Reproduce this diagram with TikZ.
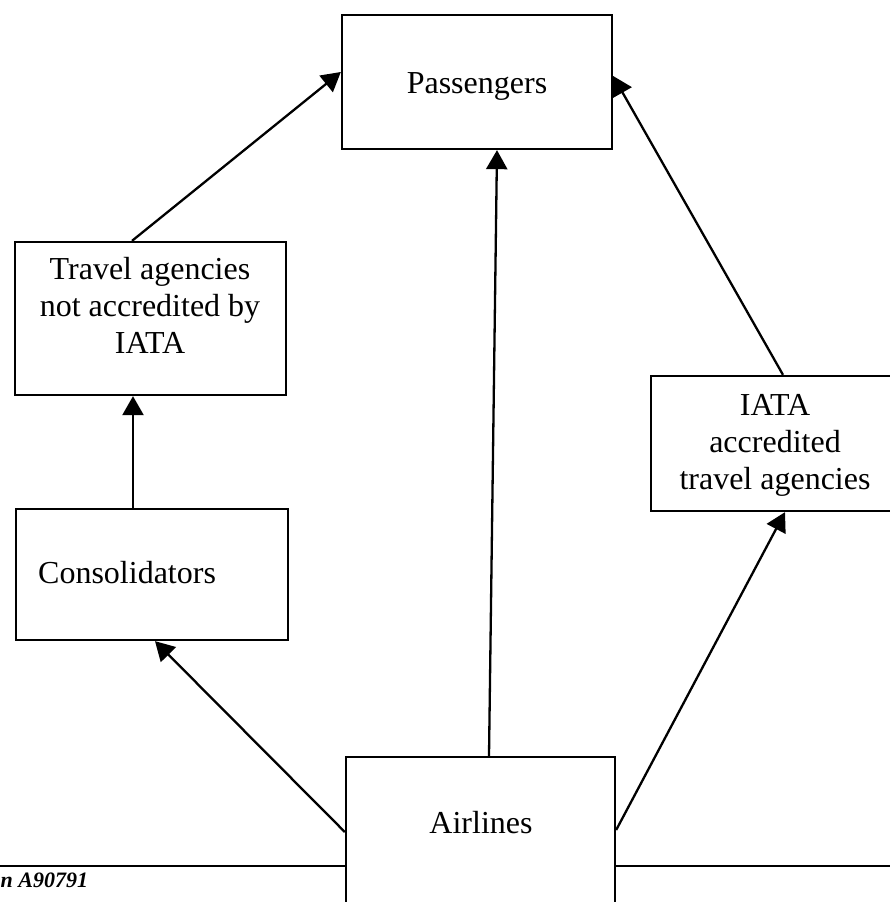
\documentclass[tikz,border=0pt]{standalone}
\usepackage{fontspec}
\setmainfont{Liberation Serif}
\usetikzlibrary{arrows.meta,calc}
\begin{document}
\begin{tikzpicture}[x=1pt,y=-1pt,
  box/.style={draw,line width=2.3pt,rectangle,inner sep=0pt},
  txt/.style={font=\fontsize{32}{37}\selectfont,align=center,inner sep=0pt},
  arr/.style={line width=2.3pt,-{Triangle[length=19pt,width=21pt]}},
  ln/.style={line width=2.3pt}]
\useasboundingbox (0,0) rectangle (890,902);
% boxes
\node[box,minimum width=270pt,minimum height=134pt] (pass) at (477,82) {};
\node[box,minimum width=271pt,minimum height=153pt] (ta) at (150.5,318.5) {};
\node[box,minimum width=248pt,minimum height=135pt] (iata) at (775,443.5) {};
\node[box,minimum width=272pt,minimum height=131pt] (cons) at (152,574.5) {};
\node[box,minimum width=269pt,minimum height=200pt,anchor=north] (air) at (480.5,756) {};
% texts
\node[txt,anchor=base] (passt) at (477,93) {Passengers};
\node[txt] (tat) at (150,305) {Travel agencies\\not accredited by\\IATA};
\node[txt] (iatat) at (775,445) {IATA\\accredited\\travel agencies};
\node[txt,anchor=base west] (const) at (38,583) {Consolidators};
\node[txt,anchor=base] (airt) at (481,833) {Airlines};
\node[inner sep=0pt,anchor=base west,font=\fontsize{22}{26}\selectfont\bfseries\itshape] (foot) at (0.5,887) {n A90791};
% connectors
\draw[arr] (ta.north -| 132,0) -- (pass.west |- 0,72);
\draw[arr] (air.north -| 489,0) -- (pass.south -| 497,0);
\draw[arr] (iata.north -| 783,0) -- (pass.east |- 0,76);
\draw[arr] (cons.north -| 133,0) -- (ta.south -| 133,0);
\draw[arr] (air.west |- 0,832) -- (cons.south -| 155,0);
\draw[arr] (air.east |- 0,830) -- (iata.south -| 785,0);
% base line
\coordinate (hl) at (0,866);
\coordinate (hr) at (890,866);
\draw[ln] (hl) -- (air.west |- hl);
\draw[ln] (air.east |- hr) -- (hr);
\end{tikzpicture}
\end{document}
